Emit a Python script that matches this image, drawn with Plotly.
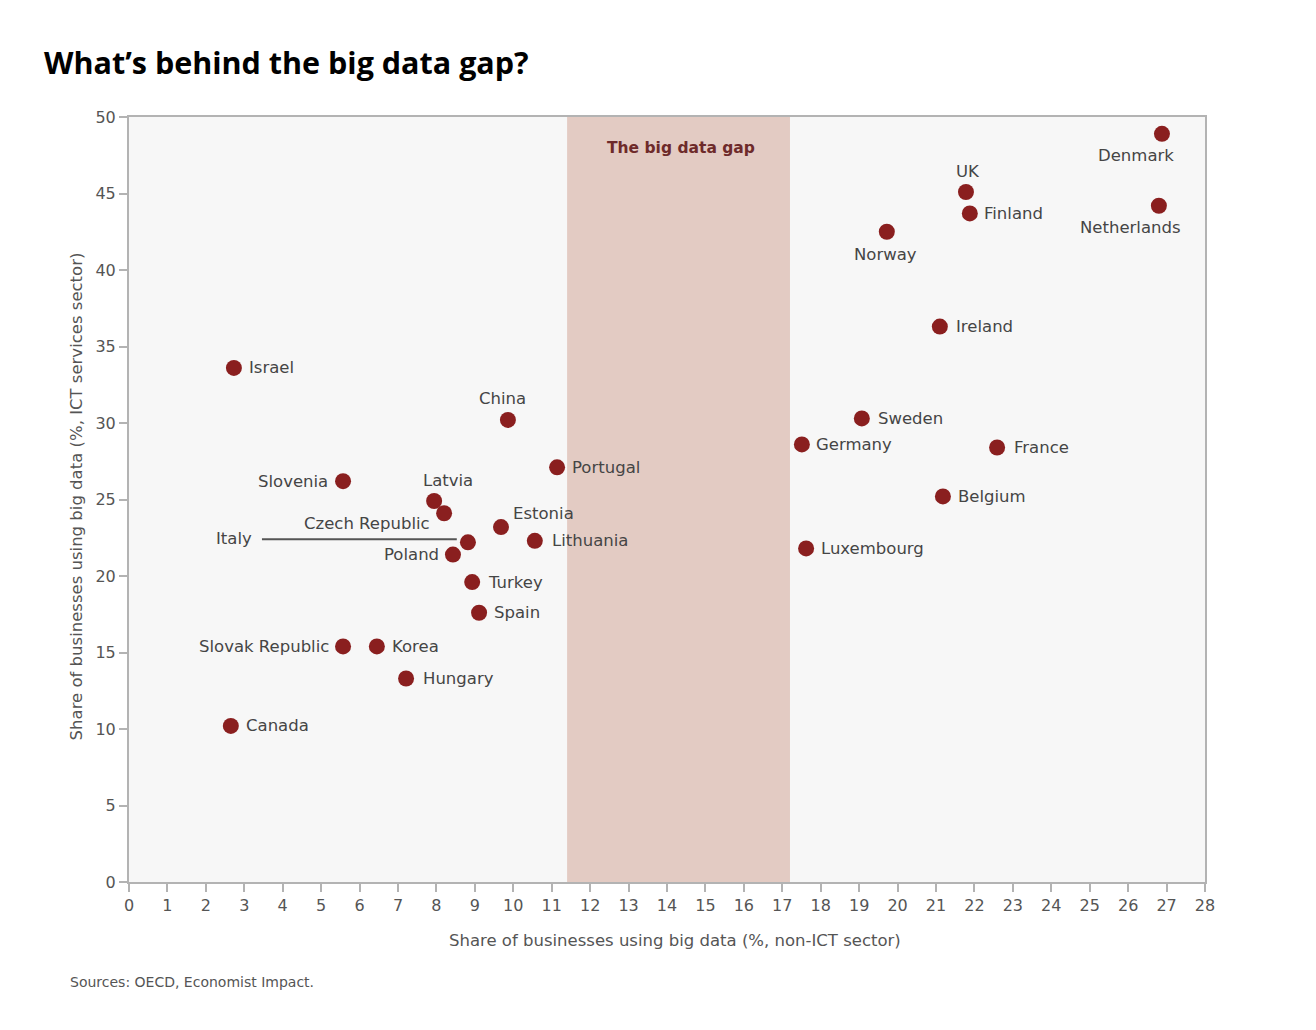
import plotly.graph_objects as go

countries = ["Israel", "Canada", "Slovenia", "Slovak Republic", "Korea", "Hungary",
             "Latvia", "Czech Republic", "Italy", "Poland", "Turkey", "Spain",
             "Estonia", "Lithuania", "China", "Portugal", "Germany", "Luxembourg",
             "Sweden", "Norway", "Ireland", "Belgium", "France", "UK", "Finland",
             "Denmark", "Netherlands"]
non_ict = [2.73, 2.65, 5.57, 5.57, 6.45, 7.21, 7.94, 8.20, 8.82, 8.43, 8.93, 9.11,
           9.68, 10.56, 9.86, 11.14, 17.51, 17.62, 19.07, 19.72, 21.10, 21.18, 22.59,
           21.78, 21.88, 26.88, 26.80]
ict = [33.6, 10.2, 26.2, 15.4, 15.4, 13.3, 24.9, 24.1, 22.2, 21.4, 19.6, 17.6,
       23.2, 22.3, 30.2, 27.1, 28.6, 21.8, 30.3, 42.5, 36.3, 25.2, 28.4, 45.1, 43.7,
       48.9, 44.2]
gap_range = [11.4, 17.2]
x_ticks = list(range(0, 29))
y_ticks = list(range(0, 51, 5))

# label placement (style): (xanchor, xshift, yshift)
placement = {
    "Israel": ("left", 13, 0), "Canada": ("left", 13, 0),
    "Slovenia": ("right", -13, 0), "Slovak Republic": ("right", -12, 0),
    "Korea": ("left", 13, 0), "Hungary": ("left", 15, 0),
    "Latvia": ("center", 14, 21), "Czech Republic": ("right", -12, -10),
    "Poland": ("right", -12, 0), "Turkey": ("left", 14, 0), "Spain": ("left", 13, 0),
    "Estonia": ("left", 10, 14), "Lithuania": ("left", 15, 0),
    "China": ("center", -5, 21), "Portugal": ("left", 13, 0),
    "Germany": ("left", 12, 0), "Luxembourg": ("left", 13, 0),
    "Sweden": ("left", 14, 0), "Norway": ("center", -1, -23),
    "Ireland": ("left", 14, 0), "Belgium": ("left", 13, 0),
    "France": ("left", 15, 0), "UK": ("center", 2, 20), "Finland": ("left", 12, 0),
    "Denmark": ("center", -26, -22), "Netherlands": ("center", -28, -22),
}

red = "#8a1f1f"
grey = "#b3b3b3"
FONT = "DejaVu Sans"
label_font = dict(family=FONT, size=16.5, color="#454545")

fig = go.Figure()
fig.add_trace(go.Scatter(x=non_ict, y=ict, mode="markers",
                         marker=dict(color=red, size=16, line=dict(width=0)),
                         hoverinfo="text", text=countries, showlegend=False))

fig.add_shape(type="rect", xref="x", yref="y", x0=gap_range[0], x1=gap_range[1],
              y0=0, y1=50, fillcolor="#e3cbc3", line=dict(width=0), layer="below")

italy_idx = countries.index("Italy")
fig.add_shape(type="line", xref="x", yref="y", x0=3.46, x1=8.53,
              y0=ict[italy_idx] + 0.2, y1=ict[italy_idx] + 0.2,
              line=dict(color="#555555", width=2))

annotations = []
for c, xv, yv in zip(countries, non_ict, ict):
    if c == "Italy":
        annotations.append(dict(x=3.46, y=yv + 0.2, xref="x", yref="y", text=c,
                                showarrow=False, xanchor="right", yanchor="middle",
                                xshift=-8, yshift=1, font=label_font))
        continue
    xa, xs, ys = placement[c]
    annotations.append(dict(x=xv, y=yv, xref="x", yref="y", text=c, showarrow=False,
                            xanchor=xa, yanchor="middle", xshift=xs, yshift=ys,
                            font=label_font))

annotations.append(dict(x=(gap_range[0] + gap_range[1]) / 2, y=48.0, xref="x", yref="y",
                        text="<b>The big data gap</b>", showarrow=False,
                        font=dict(family=FONT, size=15.5, color="#6e2a2a"),
                        xshift=2))
annotations.append(dict(x=-0.081, y=1.072, xref="paper", yref="paper",
                        text="<b>What\u2019s behind the big data gap?</b>", showarrow=False,
                        xanchor="left", yanchor="middle",
                        font=dict(family="Open Sans", size=30.5, color="#000000")))
annotations.append(dict(x=-0.0567, y=-0.1307, xref="paper", yref="paper",
                        text="Sources: OECD, Economist Impact.", showarrow=False,
                        xanchor="left", yanchor="middle",
                        font=dict(family=FONT, size=14, color="#555555")))
annotations.append(dict(x=0.5074, y=-0.0771, xref="paper", yref="paper",
                        text="Share of businesses using big data (%, non-ICT sector)",
                        showarrow=False, xanchor="center", yanchor="middle",
                        font=dict(family=FONT, size=16.5, color="#555555")))
annotations.append(dict(x=-0.0493, y=0.504, xref="paper", yref="paper",
                        text="Share of businesses using big data (%, ICT services sector)",
                        showarrow=False, xanchor="center", yanchor="middle", textangle=-90,
                        font=dict(family=FONT, size=16.5, color="#555555")))

axis_common = dict(showgrid=False, zeroline=False, showline=True, mirror=True,
                   linecolor=grey, linewidth=2, ticks="outside", ticklen=8,
                   tickcolor=grey, tickwidth=2,
                   tickfont=dict(family=FONT, size=16, color="#555555"))

fig.update_layout(
    width=1316, height=1030,
    margin=dict(l=129, r=111, t=117, b=148),
    paper_bgcolor="white", plot_bgcolor="#f7f7f7",
    xaxis=dict(range=[0, 28], tickvals=x_ticks, **axis_common),
    yaxis=dict(range=[0, 50], tickvals=y_ticks, **axis_common),
    annotations=annotations,
)

fig.write_html("out.html")
